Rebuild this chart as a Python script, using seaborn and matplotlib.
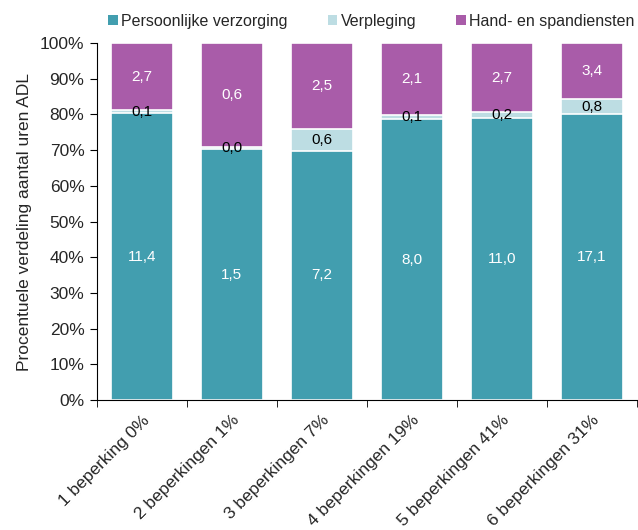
import matplotlib
matplotlib.use("Agg")
import matplotlib.pyplot as plt
from matplotlib.patches import Patch
import seaborn as sns
import pandas as pd
import numpy as np

# --- Data ---
categories = ["1 beperking 0%", "2 beperkingen 1%", "3 beperkingen 7%",
              "4 beperkingen 19%", "5 beperkingen 41%", "6 beperkingen 31%"]
series = ["Persoonlijke verzorging", "Verpleging", "Hand- en spandiensten"]

# hours shown as labels
uren_pv = [11.4, 1.5, 7.2, 8.0, 11.0, 17.1]
uren_vp = [0.1, 0.0, 0.6, 0.1, 0.2, 0.8]
uren_hs = [2.7, 0.6, 2.5, 2.1, 2.7, 3.4]

# share of hours (%)
pct_pv = [80.3, 70.3, 69.8, 78.6, 79.1, 80.2]
pct_vp = [0.9, 0.5, 6.0, 1.2, 1.5, 4.0]
pct_hs = [18.8, 29.2, 24.2, 20.2, 19.4, 15.8]

colors = {"Persoonlijke verzorging": "#429EAF",
          "Verpleging": "#BDDDE3",
          "Hand- en spandiensten": "#A95CA9"}

df = pd.DataFrame({"cat": categories, "pv": pct_pv, "vp": pct_vp, "hs": pct_hs})
df["cum_vp"] = df["pv"] + df["vp"]
df["cum_hs"] = df["cum_vp"] + df["hs"]

# --- Style ---
sns.set_style("ticks")
plt.rcParams["font.family"] = ["Liberation Sans", "DejaVu Sans"]

fig = plt.figure(figsize=(6.38, 5.30), dpi=100)
ax = fig.add_axes([0.152, 0.245, 0.846, 0.674])

bar_kws = dict(width=0.69, edgecolor="white", linewidth=1.2, saturation=1)
# draw cumulative layers on top of each other
sns.barplot(data=df, x="cat", y="cum_hs", color=colors["Hand- en spandiensten"], ax=ax, **bar_kws)
sns.barplot(data=df, x="cat", y="cum_vp", color=colors["Verpleging"], ax=ax, **bar_kws)
sns.barplot(data=df, x="cat", y="pv", color=colors["Persoonlijke verzorging"], ax=ax, **bar_kws)

# --- Value labels ---
def fmt(v):
    return f"{v:.1f}".replace(".", ",")

for i in range(len(categories)):
    ax.text(i, df["pv"][i] / 2, fmt(uren_pv[i]), ha="center", va="center",
            color="white", fontsize=11)
    ax.text(i, df["pv"][i] + df["vp"][i] / 2, fmt(uren_vp[i]), ha="center", va="center",
            color="black", fontsize=11)
    ax.text(i, df["cum_vp"][i] + df["hs"][i] / 2, fmt(uren_hs[i]), ha="center", va="center",
            color="white", fontsize=11)

# --- Axes ---
ax.set_ylim(0, 100)
ax.set_xlim(-0.5, len(categories) - 0.5)
ax.set_yticks(np.arange(0, 101, 10))
ax.set_yticklabels([f"{t}%" for t in range(0, 101, 10)], fontsize=12.5)
ax.set_xticks(range(len(categories)))
ax.set_xticklabels(categories, rotation=45, ha="right", rotation_mode="anchor", fontsize=12.5)
ax.tick_params(axis="x", length=0, pad=9)
# tick marks between categories
ax.set_xticks(np.arange(-0.5, len(categories)), minor=True)
ax.tick_params(axis="x", which="minor", length=5, direction="out", color="black")
ax.tick_params(axis="y", length=5, direction="out", color="black", pad=4)
ax.set_xlabel("")
ax.set_ylabel("Procentuele verdeling aantal uren ADL", fontsize=12.5, labelpad=6)
for s in ["top", "right"]:
    ax.spines[s].set_visible(False)
ax.spines["left"].set_color("black")
ax.spines["bottom"].set_color("black")

# --- Legend ---
handles = [Patch(facecolor=colors[s], edgecolor="none") for s in series]
fig.legend(handles, series, loc="upper left", bbox_to_anchor=(0.15, 0.998), ncol=3,
           frameon=False, fontsize=11.5, handlelength=0.6, handleheight=0.6,
           handletextpad=0.2, columnspacing=2.5, borderpad=0.3)

fig.savefig("out.png", dpi=100)
